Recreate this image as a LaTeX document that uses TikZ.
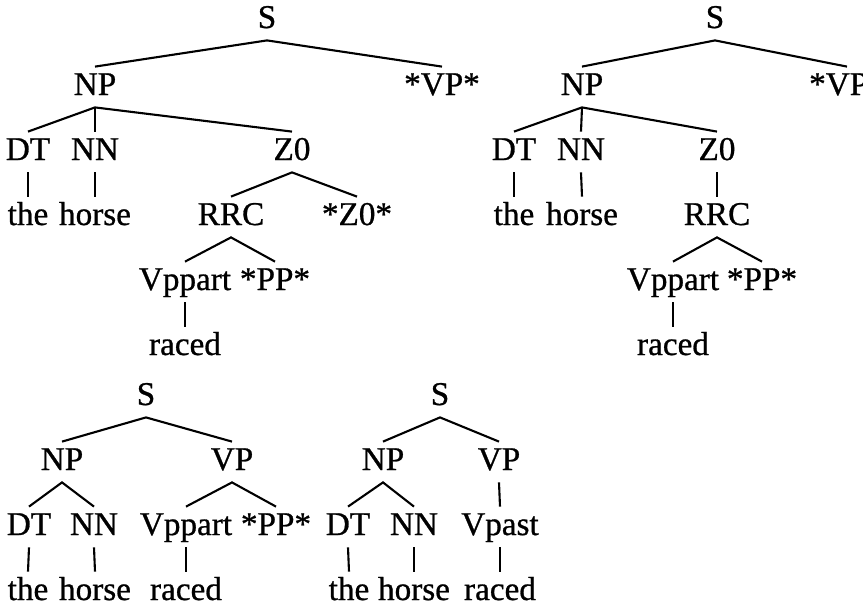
\documentclass[tikz,border=0pt]{standalone}
\usepackage{fontspec}
\setmainfont{Liberation Serif}
\newfontfamily\treefont{Liberation Serif}[FakeBold=0.8]
\usetikzlibrary{positioning}

\tikzset{
  cat/.style={anchor=base, inner sep=0pt, text height=14pt, text depth=6pt,
    font=\treefont\fontsize{16.6}{19}\selectfont},
  branch/.style={line width=1.05pt}
}

\begin{document}
\begin{tikzpicture}[x=0.5pt, y=-0.5pt]

    \useasboundingbox (0,0) rectangle (863,607);

    % first tree
    \node[cat] (aS) at (267,28) {S};
    \node[cat] (aNP) at (95,95) {NP};
    \node[cat] (aVP) at (442,95) {*VP*};
    \node[cat] (aDT) at (28,160) {DT};
    \node[cat] (aNN) at (95,160) {NN};
    \node[cat] (aZ) at (292,160) {Z0};
    \node[cat] (athe) at (28,225) {the};
    \node[cat] (ahorse) at (95,225) {horse};
    \node[cat] (aRRC) at (231,225) {RRC};
    \node[cat] (aZs) at (357,225) {*Z0*};
    \node[cat] (aV) at (185,290) {Vppart};
    \node[cat] (aPP) at (275,290) {*PP*};
    \node[cat] (araced) at (185,355) {raced};

    \draw[branch] (aNP.north) -- (aS.south) -- (aVP.north);
    \draw[branch] (aDT.north) -- (aNP.south) -- (aZ.north);
    \draw[branch] (aNP.south) -- (aNN.north);
    \draw[branch] (aDT.south) -- (athe.north);
    \draw[branch] (aNN.south) -- (ahorse.north);
    \draw[branch] (aRRC.north) -- (aZ.south) -- (aZs.north);
    \draw[branch] (aV.north) -- (aRRC.south) -- (aPP.north);
    \draw[branch] (aV.south) -- (araced.north);

    % second tree
    \node[cat] (bS) at (715,28) {S};
    \node[cat] (bNP) at (582,95) {NP};
    \node[cat] (bVP) at (847,95) {*VP*};
    \node[cat] (bDT) at (514,160) {DT};
    \node[cat] (bNN) at (581,160) {NN};
    \node[cat] (bZ) at (717,160) {Z0};
    \node[cat] (bthe) at (514,225) {the};
    \node[cat] (bhorse) at (582,225) {horse};
    \node[cat] (bRRC) at (717,225) {RRC};
    \node[cat] (bV) at (673,290) {Vppart};
    \node[cat] (bPP) at (762,290) {*PP*};
    \node[cat] (braced) at (673,355) {raced};

    \draw[branch] (bNP.north) -- (bS.south) -- (bVP.north);
    \draw[branch] (bDT.north) -- (bNP.south) -- (bZ.north);
    \draw[branch] (bNP.south) -- (bNN.north);
    \draw[branch] (bDT.south) -- (bthe.north);
    \draw[branch] (bNN.south) -- (bhorse.north);
    \draw[branch] (bZ.south) -- (bRRC.north);
    \draw[branch] (bV.north) -- (bRRC.south) -- (bPP.north);
    \draw[branch] (bV.south) -- (braced.north);

    % third tree
    \node[cat] (cS) at (146,405) {S};
    \node[cat] (cNP) at (62,470) {NP};
    \node[cat] (cVP) at (232,470) {VP};
    \node[cat] (cDT) at (29,535) {DT};
    \node[cat] (cNN) at (94,535) {NN};
    \node[cat] (cV) at (186,535) {Vppart};
    \node[cat] (cPP) at (276,535) {*PP*};
    \node[cat] (cthe) at (28,600) {the};
    \node[cat] (chorse) at (95,600) {horse};
    \node[cat] (craced) at (186,600) {raced};

    \draw[branch] (cNP.north) -- (cS.south) -- (cVP.north);
    \draw[branch] (cDT.north) -- (cNP.south) -- (cNN.north);
    \draw[branch] (cV.north) -- (cVP.south) -- (cPP.north);
    \draw[branch] (cDT.south) -- (cthe.north);
    \draw[branch] (cNN.south) -- (chorse.north);
    \draw[branch] (cV.south) -- (craced.north);

    % fourth tree
    \node[cat] (dS) at (440,405) {S};
    \node[cat] (dNP) at (383,470) {NP};
    \node[cat] (dVP) at (499,470) {VP};
    \node[cat] (dDT) at (348,535) {DT};
    \node[cat] (dNN) at (414,535) {NN};
    \node[cat] (dV) at (500,535) {Vpast};
    \node[cat] (dthe) at (349,600) {the};
    \node[cat] (dhorse) at (414,600) {horse};
    \node[cat] (draced) at (500,600) {raced};

    \draw[branch] (dNP.north) -- (dS.south) -- (dVP.north);
    \draw[branch] (dDT.north) -- (dNP.south) -- (dNN.north);
    \draw[branch] (dVP.south) -- (dV.north);
    \draw[branch] (dDT.south) -- (dthe.north);
    \draw[branch] (dNN.south) -- (dhorse.north);
    \draw[branch] (dV.south) -- (draced.north);

\end{tikzpicture}
\end{document}
